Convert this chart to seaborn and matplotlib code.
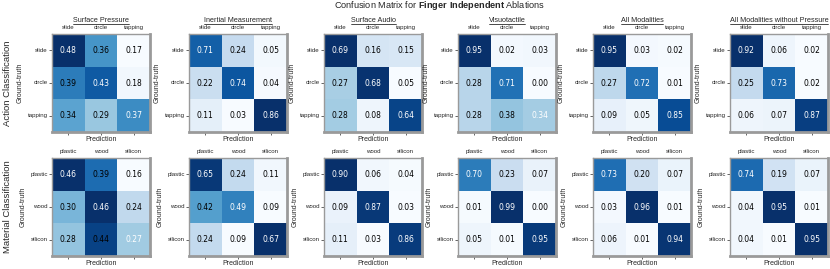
import numpy as np
import pandas as pd
import matplotlib
matplotlib.use("Agg")
import matplotlib.pyplot as plt
import seaborn as sns
from matplotlib.lines import Line2D

# --- data ---
modalities = ["Surface Pressure", "Inertial Measurement", "Surface Audio",
              "Visuotactile", "All Modalities", "All Modalities without Pressure"]
row_titles = ["Action Classification", "Material Classification"]
action_labels = ["slide", "circle", "tapping"]
material_labels = ["plastic", "wood", "silicon"]

action_sp = [[0.48, 0.36, 0.17], [0.39, 0.43, 0.18], [0.34, 0.29, 0.37]]
action_im = [[0.71, 0.24, 0.05], [0.22, 0.74, 0.04], [0.11, 0.03, 0.86]]
action_sa = [[0.69, 0.16, 0.15], [0.27, 0.68, 0.05], [0.28, 0.08, 0.64]]
action_vt = [[0.95, 0.02, 0.03], [0.28, 0.71, 0.00], [0.28, 0.38, 0.34]]
action_all = [[0.95, 0.03, 0.02], [0.27, 0.72, 0.01], [0.09, 0.05, 0.85]]
action_nop = [[0.92, 0.06, 0.02], [0.25, 0.73, 0.02], [0.06, 0.07, 0.87]]

material_sp = [[0.46, 0.39, 0.16], [0.30, 0.46, 0.24], [0.28, 0.44, 0.27]]
material_im = [[0.65, 0.24, 0.11], [0.42, 0.49, 0.09], [0.24, 0.09, 0.67]]
material_sa = [[0.90, 0.06, 0.04], [0.09, 0.87, 0.03], [0.11, 0.03, 0.86]]
material_vt = [[0.70, 0.23, 0.07], [0.01, 0.99, 0.00], [0.05, 0.01, 0.95]]
material_all = [[0.73, 0.20, 0.07], [0.03, 0.96, 0.01], [0.06, 0.01, 0.94]]
material_nop = [[0.74, 0.19, 0.07], [0.04, 0.95, 0.01], [0.04, 0.01, 0.95]]

action_mats = [action_sp, action_im, action_sa, action_vt, action_all, action_nop]
material_mats = [material_sp, material_im, material_sa, material_vt, material_all, material_nop]

# --- style ---
sns.set_style("white")
plt.rcParams["font.family"] = ["Liberation Sans", "DejaVu Sans"]

W, H = 830, 269
fig = plt.figure(figsize=(W / 100, H / 100), dpi=100)

col_left = [52, 189, 324, 458, 593, 730]   # px
ax_w = 98
rows_px = [(34, 132), (158, 256)]            # top, bottom px

titles = []
for r, (mats, labels) in enumerate([(action_mats, action_labels),
                                    (material_mats, material_labels)]):
    top, bot = rows_px[r]
    for c, mat in enumerate(mats):
        ax = fig.add_axes([col_left[c] / W, 1 - bot / H, ax_w / W, (bot - top) / H])
        df = pd.DataFrame(mat, index=labels, columns=labels)
        sns.heatmap(df, cmap="Blues", cbar=False, annot=True, fmt=".2f",
                    annot_kws={"size": 5.5, "family": "DejaVu Sans"}, ax=ax)
        for i, t in enumerate(ax.texts):
            t.set_color("white" if i // 3 == i % 3 else "black")
        ax.tick_params(axis="x", top=False, labeltop=True, bottom=True,
                       labelbottom=False, length=2, width=0.5, pad=0.8,
                       labelsize=4.4)
        ax.tick_params(axis="y", left=True, length=2, width=0.5, pad=1,
                       labelsize=4.4)
        plt.setp(ax.get_yticklabels(), rotation=0)
        plt.setp(ax.get_xticklabels(), rotation=0)
        ax.set_xlabel("Prediction", fontsize=5, labelpad=1)
        ax.set_ylabel("Ground-truth", fontsize=5, labelpad=3)
        for name, sp in ax.spines.items():
            sp.set_visible(True)
            sp.set_color("#9a9a9a")
            sp.set_linewidth(2.0 if name in ("right", "bottom") else 1.0)
        if r == 0:
            titles.append(ax.set_title(modalities[c], fontsize=5.2, y=1.0, pad=8.5))

for r, name in enumerate(row_titles):
    top, bot = rows_px[r]
    fig.text(8 / W, 1 - (top + bot) / 2 / H, name, rotation=90,
             ha="center", va="center", fontsize=6.8)

plt.rcParams["mathtext.fontset"] = "custom"
plt.rcParams["mathtext.rm"] = "Liberation Sans"
plt.rcParams["mathtext.bf"] = "Liberation Sans:bold"
fig.text(0.529, 1 - 6 / H, r"Confusion Matrix for $\mathbf{Finger\ Independent}$ Ablations",
         ha="center", va="center", fontsize=6.6)

# underline the subplot titles
fig.canvas.draw()
renderer = fig.canvas.get_renderer()
for t in titles:
    bb = t.get_window_extent(renderer)
    y = (bb.y0 + 0.5) / H
    fig.add_artist(Line2D([bb.x0 / W, bb.x1 / W], [y, y], color="black",
                          linewidth=0.5, transform=fig.transFigure))

fig.savefig("out.png", dpi=100)
